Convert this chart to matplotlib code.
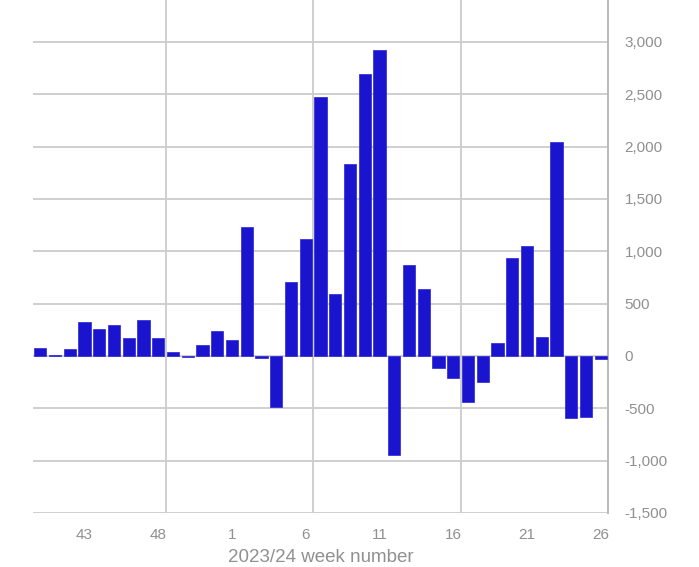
import matplotlib
matplotlib.use("Agg")
import matplotlib.pyplot as plt
from matplotlib.ticker import FuncFormatter

weeks = [40, 41, 42, 43, 44, 45, 46, 47, 48, 49, 50, 51, 52,
         1, 2, 3, 4, 5, 6, 7, 8, 9, 10, 11, 12, 13, 14, 15, 16,
         17, 18, 19, 20, 21, 22, 23, 24, 25, 26]
values = [74, 10, 64, 323, 259, 291, 173, 348, 173, 42, -10, 109, 240,
          150, 1227, -15, -492, 709, 1118, 2473, 594, 1837, 2696, 2923,
          -942, 872, 642, -118, -208, -441, -249, 121, 936, 1048, 179,
          2039, -597, -581, -32]
tick_weeks = [43, 48, 1, 6, 11, 16, 21, 26]
y_ticks = [-1500, -1000, -500, 0, 500, 1000, 1500, 2000, 2500, 3000]

plt.rcParams['font.family'] = ['Liberation Sans', 'DejaVu Sans']

fig = plt.figure(figsize=(6.99, 5.67), dpi=100)
ax = fig.add_axes([33/699, 1-513/567, (608-33)/699, 513/567])

x = list(range(len(weeks)))
ax.bar(x, values, width=0.83, color='#1b14cf', edgecolor='#2a22d8', linewidth=0.5, zorder=3)

ax.set_xlim(-0.5, len(weeks) - 0.5)
ax.set_ylim(-1500, 3400)

for yv in y_ticks:
    ax.axhline(yv, color='#cccccc', linewidth=1.3, zorder=1)
for i in range(8, len(weeks), 10):
    ax.axvline(i + 0.5, color='#cccccc', linewidth=1.3, zorder=1)

tick_pos = [weeks.index(w) for w in tick_weeks]
ax.set_xticks(tick_pos)
ax.set_xticklabels([str(w) for w in tick_weeks])
ax.set_yticks(y_ticks)
ax.yaxis.set_major_formatter(FuncFormatter(lambda v, p: f"{int(v):,}"))
ax.yaxis.tick_right()
ax.tick_params(axis='both', length=0, labelsize=11, labelcolor='#909090')
ax.tick_params(axis='y', pad=12)
ax.tick_params(axis='x', pad=11)

for s in ['top', 'left', 'bottom']:
    ax.spines[s].set_visible(False)
ax.spines['right'].set_color('#bbbbbb')
ax.spines['right'].set_linewidth(1.5)

ax.set_xlabel('2023/24 week number', fontsize=13.5, color='#909090', labelpad=5)

fig.savefig('out.png', dpi=100)
